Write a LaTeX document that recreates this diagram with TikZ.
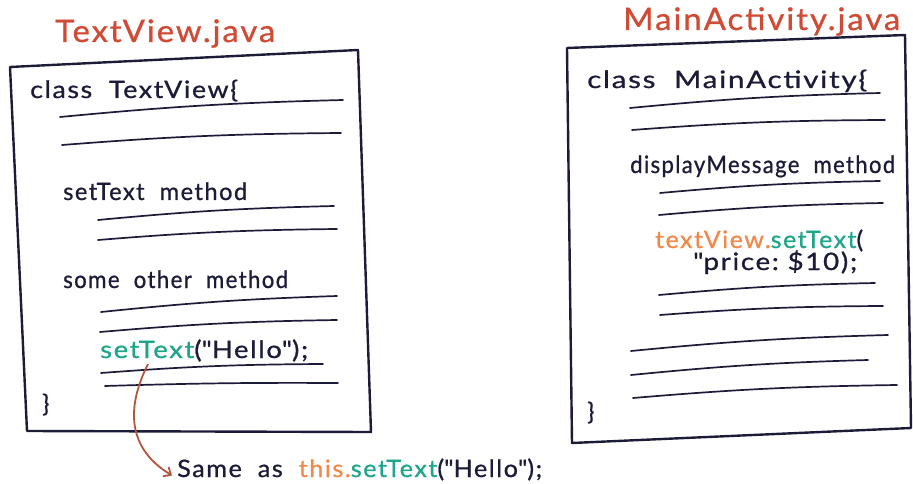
\documentclass[tikz,border=0pt]{standalone}
\usetikzlibrary{arrows.meta}
\usepackage{fontspec}
\usepackage{graphicx}
\setmainfont{Lato}
\newfontfamily\hand[LetterSpace=6,FakeBold=0.8]{Lato}
\newcommand\fitw[2]{\resizebox{#1}{\height}{#2}}
\definecolor{ink}{HTML}{1C1C38}
\definecolor{titlered}{HTML}{CF4B35}
\definecolor{codegreen}{HTML}{1FA68A}
\definecolor{codeorange}{HTML}{EF8A4C}
\definecolor{arrowred}{HTML}{B4553D}
\begin{document}
\begin{tikzpicture}[x=1pt,y=-1pt,
  boxline/.style={draw=ink,line width=2.4pt,line join=round},
  rule/.style={draw=ink,line width=1.7pt,line cap=round},
  txt/.style={anchor=base west,inner sep=0pt,text=ink,font=\hand\fontsize{24}{28}\selectfont},
  title/.style={anchor=base west,inner sep=0pt,text=titlered,font=\hand\fontsize{31}{35}\selectfont},
  link/.style={draw=arrowred,line width=1.8pt,-{Straight Barb[length=6pt,width=11pt]}}]
\useasboundingbox (0,0) rectangle (913,484);
% left file
\node[title] (t1) at (55,42) {\fitw{220pt}{TextView.java}};
\coordinate (a1) at (10,67);
\coordinate (a2) at (358,50);
\coordinate (a3) at (371,432);
\coordinate (a4) at (27,431);
\draw[boxline] (a1) -- (a2) -- (a3) -- (a4) -- cycle;
\node[txt] (c1) at (30,98) {\fitw{208pt}{class\ \ TextView\{}};
\draw[rule] (60,117) to[bend left=2] (343,100);
\draw[rule] (62,145) to[bend left=2] (341,133);
\node[txt] (m1) at (63,200) {\fitw{184pt}{setText\ \ method}};
\draw[rule] (98,220) to[bend left=2] (334,206);
\draw[rule] (98,240) to[bend left=2] (337,229);
\node[txt] (m2) at (63,288) {\fitw{225pt}{some\ \ other\ \ method}};
\draw[rule] (101,312) to[bend left=2] (337,296);
\draw[rule] (100,332) to[bend left=2] (337,320);
\node[txt] (call) at (100,358) {\fitw{208pt}{\textcolor{codegreen}{setText}(\textquotedbl Hello\textquotedbl);}};
\draw[rule] (101,373) to[bend left=2] (323,364);
\draw[rule] (105,386) to[bend left=1] (338,383);
\node[txt] (e1) at (42,412) {\}};
\node[txt] (same) at (177,477) {\fitw{365pt}{Same\ \ as\ \ \textcolor{codeorange}{this.}\textcolor{codegreen}{setText}(\textquotedbl Hello\textquotedbl);}};
\coordinate (src) at (148,364);
\draw[link] (src) .. controls (130,400) and (122,445) .. ([xshift=-5pt,yshift=-6pt]same.west);
% right file
\node[title] (t2) at (623,30) {\fitw{277pt}{MainActivity.java}};
\coordinate (b1) at (567,48);
\coordinate (b2) at (905,35);
\coordinate (b3) at (911,428);
\coordinate (b4) at (572,443);
\draw[boxline] (b1) -- (b2) -- (b3) -- (b4) -- cycle;
\node[txt] (c2) at (587,88) {\fitw{280pt}{class\ \ MainActivity\{}};
\draw[rule] (630,108) to[bend left=2] (880,93);
\draw[rule] (632,130) to[bend left=2] (885,120);
\node[txt] (m3) at (630,173) {\fitw{265pt}{displayMessage\ \ method}};
\draw[rule] (660,193) to[bend left=2] (880,181);
\draw[rule] (659,215) to[bend left=2] (883,203);
\node[txt] (call2) at (655,248) {\fitw{208pt}{\textcolor{codeorange}{textView.}\textcolor{codegreen}{setText}(}};
\node[txt] (arg) at (693,270) {\fitw{164pt}{\textquotedbl price:\ \$10);}};
\draw[rule] (659,295) to[bend left=2] (875,283);
\draw[rule] (660,315) to[bend left=2] (883,306);
\draw[rule] (631,351) to[bend left=2] (888,335);
\draw[rule] (631,375) to[bend left=2] (868,360);
\draw[rule] (633,398) to[bend left=2] (897,385);
\node[txt] (e2) at (587,420) {\}};
\end{tikzpicture}
\end{document}
